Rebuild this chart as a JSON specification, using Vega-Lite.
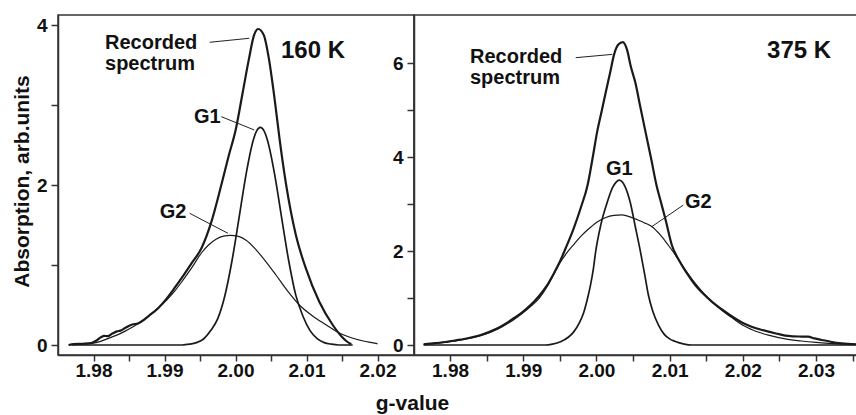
{
  "$schema": "https://vega.github.io/schema/vega-lite/v6.json",
  "autosize": {"type": "pad"},
  "padding": {"left": 10, "top": 14, "right": 0, "bottom": 0},
  "bounds": "flush",
  "spacing": 0,
  "config": {
    "font": "Liberation Sans",
    "view": {"stroke": "#333", "strokeWidth": 1.5},
    "axis": {
      "grid": false,
      "labelFont": "Liberation Sans", "labelFontWeight": "bold", "labelFontSize": 19, "labelColor": "#111",
      "domainColor": "#333", "domainWidth": 1.5, "tickColor": "#333", "tickWidth": 1.5,
      "titleFont": "Liberation Sans", "titleFontWeight": "bold", "titleFontSize": 21, "titleColor": "#111",
      "labelOverlap": false, "labelFlush": false, "labelBound": false
    }
  },
  "datasets": {
    "left": [
      {"s":"Recorded","g":1.9765,"A":0},{"s":"Recorded","g":1.9772,"A":0.01},{"s":"Recorded","g":1.9785,"A":0.015},{"s":"Recorded","g":1.9797,"A":0.025},{"s":"Recorded","g":1.9805,"A":0.06},{"s":"Recorded","g":1.9811,"A":0.1},{"s":"Recorded","g":1.9815,"A":0.115},{"s":"Recorded","g":1.982,"A":0.11},{"s":"Recorded","g":1.9826,"A":0.14},{"s":"Recorded","g":1.9833,"A":0.17},{"s":"Recorded","g":1.9838,"A":0.18},{"s":"Recorded","g":1.9844,"A":0.21},{"s":"Recorded","g":1.9851,"A":0.245},{"s":"Recorded","g":1.9856,"A":0.26},{"s":"Recorded","g":1.9861,"A":0.265},{"s":"Recorded","g":1.9867,"A":0.29},{"s":"Recorded","g":1.9878,"A":0.365},{"s":"Recorded","g":1.9891,"A":0.46},{"s":"Recorded","g":1.9903,"A":0.58},{"s":"Recorded","g":1.9914,"A":0.71},{"s":"Recorded","g":1.9926,"A":0.86},{"s":"Recorded","g":1.9938,"A":1.02},{"s":"Recorded","g":1.9952,"A":1.21},{"s":"Recorded","g":1.9966,"A":1.54},{"s":"Recorded","g":1.998,"A":2.0},{"s":"Recorded","g":1.999,"A":2.35},{"s":"Recorded","g":2.0001,"A":2.72},{"s":"Recorded","g":2.001,"A":3.15},{"s":"Recorded","g":2.0019,"A":3.58},{"s":"Recorded","g":2.0026,"A":3.87},{"s":"Recorded","g":2.0032,"A":3.95},{"s":"Recorded","g":2.004,"A":3.87},{"s":"Recorded","g":2.0047,"A":3.58},{"s":"Recorded","g":2.0055,"A":3.08},{"s":"Recorded","g":2.0062,"A":2.58},{"s":"Recorded","g":2.0071,"A":2.02},{"s":"Recorded","g":2.0085,"A":1.375},{"s":"Recorded","g":2.0099,"A":0.96},{"s":"Recorded","g":2.0118,"A":0.54},{"s":"Recorded","g":2.0137,"A":0.25},{"s":"Recorded","g":2.015,"A":0.1},{"s":"Recorded","g":2.0156,"A":0.05},{"s":"Recorded","g":2.0163,"A":0.01},
      {"s":"G1","g":1.977,"A":0},{"s":"G1","g":1.9925,"A":0},{"s":"G1","g":1.9935,"A":0.01},{"s":"G1","g":1.9945,"A":0.03},{"s":"G1","g":1.9955,"A":0.075},{"s":"G1","g":1.9965,"A":0.18},{"s":"G1","g":1.9975,"A":0.33},{"s":"G1","g":1.9985,"A":0.616},{"s":"G1","g":1.9995,"A":1.05},{"s":"G1","g":2.0005,"A":1.59},{"s":"G1","g":2.0015,"A":2.14},{"s":"G1","g":2.0025,"A":2.56},{"s":"G1","g":2.003,"A":2.68},{"s":"G1","g":2.0035,"A":2.72},{"s":"G1","g":2.004,"A":2.68},{"s":"G1","g":2.0045,"A":2.56},{"s":"G1","g":2.0055,"A":2.14},{"s":"G1","g":2.0065,"A":1.59},{"s":"G1","g":2.0075,"A":1.05},{"s":"G1","g":2.0085,"A":0.62},{"s":"G1","g":2.0095,"A":0.36},{"s":"G1","g":2.0105,"A":0.18},{"s":"G1","g":2.0115,"A":0.08},{"s":"G1","g":2.0125,"A":0.03},{"s":"G1","g":2.0135,"A":0.01},{"s":"G1","g":2.0145,"A":0},{"s":"G1","g":2.0165,"A":0},
      {"s":"G2","g":1.9765,"A":0},{"s":"G2","g":1.978,"A":0.01},{"s":"G2","g":1.9797,"A":0.02},{"s":"G2","g":1.981,"A":0.045},{"s":"G2","g":1.982,"A":0.08},{"s":"G2","g":1.9832,"A":0.12},{"s":"G2","g":1.9844,"A":0.17},{"s":"G2","g":1.9855,"A":0.225},{"s":"G2","g":1.9867,"A":0.29},{"s":"G2","g":1.9879,"A":0.37},{"s":"G2","g":1.9891,"A":0.46},{"s":"G2","g":1.9903,"A":0.56},{"s":"G2","g":1.9914,"A":0.67},{"s":"G2","g":1.9926,"A":0.81},{"s":"G2","g":1.9938,"A":0.96},{"s":"G2","g":1.9952,"A":1.15},{"s":"G2","g":1.9962,"A":1.25},{"s":"G2","g":1.9972,"A":1.32},{"s":"G2","g":1.9983,"A":1.36},{"s":"G2","g":1.9993,"A":1.37},{"s":"G2","g":2.0003,"A":1.36},{"s":"G2","g":2.0015,"A":1.31},{"s":"G2","g":2.0029,"A":1.19},{"s":"G2","g":2.0043,"A":1.04},{"s":"G2","g":2.0057,"A":0.875},{"s":"G2","g":2.0073,"A":0.68},{"s":"G2","g":2.009,"A":0.5},{"s":"G2","g":2.0109,"A":0.36},{"s":"G2","g":2.0128,"A":0.25},{"s":"G2","g":2.0144,"A":0.16},{"s":"G2","g":2.016,"A":0.1},{"s":"G2","g":2.018,"A":0.05},{"s":"G2","g":2.0198,"A":0.02},{"s":"G2","g":2.02,"A":0.015}
    ],
    "leftLeaders": [
      {"id":"R","g":1.99637,"A":3.784},{"id":"R","g":2.00194,"A":3.834},
      {"id":"G1","g":1.998,"A":2.854},{"id":"G1","g":2.00265,"A":2.6875},
      {"id":"G2","g":1.99355,"A":1.646},{"id":"G2","g":1.99894,"A":1.396}
    ],
    "leftLabels": [
      {"g":1.98162,"A":3.706,"text":"Recorded\nspectrum","kind":"name"},
      {"g":2.00641,"A":3.5875,"text":"160 K","kind":"temp"},
      {"g":1.99415,"A":2.771,"text":"G1","kind":"comp"},
      {"g":1.98932,"A":1.584,"text":"G2","kind":"comp"}
    ],
    "right": [
      {"s":"Recorded","g":1.9764,"A":0.015},{"s":"Recorded","g":1.978,"A":0.04},{"s":"Recorded","g":1.9796,"A":0.07},{"s":"Recorded","g":1.9808,"A":0.1},{"s":"Recorded","g":1.9819,"A":0.128},{"s":"Recorded","g":1.983,"A":0.165},{"s":"Recorded","g":1.9842,"A":0.213},{"s":"Recorded","g":1.9854,"A":0.28},{"s":"Recorded","g":1.9865,"A":0.355},{"s":"Recorded","g":1.9876,"A":0.455},{"s":"Recorded","g":1.9887,"A":0.57},{"s":"Recorded","g":1.9899,"A":0.7},{"s":"Recorded","g":1.991,"A":0.85},{"s":"Recorded","g":1.9922,"A":1.05},{"s":"Recorded","g":1.9933,"A":1.28},{"s":"Recorded","g":1.9941,"A":1.5},{"s":"Recorded","g":1.9949,"A":1.74},{"s":"Recorded","g":1.9959,"A":2.1},{"s":"Recorded","g":1.9969,"A":2.485},{"s":"Recorded","g":1.9979,"A":2.94},{"s":"Recorded","g":1.9988,"A":3.41},{"s":"Recorded","g":1.9995,"A":4.0},{"s":"Recorded","g":2.0001,"A":4.54},{"s":"Recorded","g":2.0007,"A":4.97},{"s":"Recorded","g":2.0013,"A":5.4},{"s":"Recorded","g":2.0019,"A":5.82},{"s":"Recorded","g":2.0024,"A":6.18},{"s":"Recorded","g":2.003,"A":6.4},{"s":"Recorded","g":2.0036,"A":6.45},{"s":"Recorded","g":2.0042,"A":6.28},{"s":"Recorded","g":2.0047,"A":5.93},{"s":"Recorded","g":2.0053,"A":5.6},{"s":"Recorded","g":2.006,"A":5.07},{"s":"Recorded","g":2.0068,"A":4.47},{"s":"Recorded","g":2.0075,"A":3.95},{"s":"Recorded","g":2.0082,"A":3.41},{"s":"Recorded","g":2.0088,"A":3.05},{"s":"Recorded","g":2.0094,"A":2.7},{"s":"Recorded","g":2.0103,"A":2.13},{"s":"Recorded","g":2.0114,"A":1.775},{"s":"Recorded","g":2.0124,"A":1.52},{"s":"Recorded","g":2.0135,"A":1.278},{"s":"Recorded","g":2.0146,"A":1.09},{"s":"Recorded","g":2.0158,"A":0.92},{"s":"Recorded","g":2.0173,"A":0.74},{"s":"Recorded","g":2.0189,"A":0.57},{"s":"Recorded","g":2.02,"A":0.47},{"s":"Recorded","g":2.0212,"A":0.39},{"s":"Recorded","g":2.0224,"A":0.33},{"s":"Recorded","g":2.0235,"A":0.284},{"s":"Recorded","g":2.0247,"A":0.24},{"s":"Recorded","g":2.0258,"A":0.199},{"s":"Recorded","g":2.0268,"A":0.185},{"s":"Recorded","g":2.028,"A":0.18},{"s":"Recorded","g":2.0289,"A":0.177},{"s":"Recorded","g":2.0298,"A":0.14},{"s":"Recorded","g":2.0308,"A":0.107},{"s":"Recorded","g":2.032,"A":0.07},{"s":"Recorded","g":2.0335,"A":0.036},{"s":"Recorded","g":2.0356,"A":0.015},
      {"s":"G2","g":1.9764,"A":0.015},{"s":"G2","g":1.9796,"A":0.06},{"s":"G2","g":1.9819,"A":0.12},{"s":"G2","g":1.9842,"A":0.2},{"s":"G2","g":1.9865,"A":0.335},{"s":"G2","g":1.9887,"A":0.54},{"s":"G2","g":1.991,"A":0.82},{"s":"G2","g":1.9922,"A":1.0},{"s":"G2","g":1.9933,"A":1.25},{"s":"G2","g":1.9941,"A":1.48},{"s":"G2","g":1.9949,"A":1.72},{"s":"G2","g":1.9959,"A":1.95},{"s":"G2","g":1.9969,"A":2.14},{"s":"G2","g":1.9979,"A":2.32},{"s":"G2","g":1.999,"A":2.48},{"s":"G2","g":2.0001,"A":2.62},{"s":"G2","g":2.0012,"A":2.71},{"s":"G2","g":2.0024,"A":2.76},{"s":"G2","g":2.0035,"A":2.77},{"s":"G2","g":2.0046,"A":2.73},{"s":"G2","g":2.0054,"A":2.68},{"s":"G2","g":2.0066,"A":2.6},{"s":"G2","g":2.0076,"A":2.52},{"s":"G2","g":2.0087,"A":2.35},{"s":"G2","g":2.0098,"A":2.13},{"s":"G2","g":2.0106,"A":1.96},{"s":"G2","g":2.0114,"A":1.775},{"s":"G2","g":2.0124,"A":1.54},{"s":"G2","g":2.0135,"A":1.31},{"s":"G2","g":2.0146,"A":1.11},{"s":"G2","g":2.0158,"A":0.92},{"s":"G2","g":2.0173,"A":0.72},{"s":"G2","g":2.0189,"A":0.54},{"s":"G2","g":2.02,"A":0.42},{"s":"G2","g":2.0212,"A":0.33},{"s":"G2","g":2.0224,"A":0.26},{"s":"G2","g":2.0235,"A":0.21},{"s":"G2","g":2.0258,"A":0.13},{"s":"G2","g":2.028,"A":0.085},{"s":"G2","g":2.03,"A":0.055},{"s":"G2","g":2.0325,"A":0.03},{"s":"G2","g":2.0356,"A":0.015},
      {"s":"G1","g":1.9764,"A":0},{"s":"G1","g":1.993,"A":0},{"s":"G1","g":1.994,"A":0.02},{"s":"G1","g":1.9951,"A":0.07},{"s":"G1","g":1.9962,"A":0.17},{"s":"G1","g":1.9969,"A":0.28},{"s":"G1","g":1.9977,"A":0.48},{"s":"G1","g":1.9983,"A":0.71},{"s":"G1","g":1.9988,"A":1.0},{"s":"G1","g":1.9992,"A":1.28},{"s":"G1","g":1.9996,"A":1.64},{"s":"G1","g":1.9999,"A":1.99},{"s":"G1","g":2.0006,"A":2.56},{"s":"G1","g":2.0015,"A":3.05},{"s":"G1","g":2.0022,"A":3.35},{"s":"G1","g":2.0027,"A":3.47},{"s":"G1","g":2.0031,"A":3.51},{"s":"G1","g":2.0035,"A":3.48},{"s":"G1","g":2.0039,"A":3.38},{"s":"G1","g":2.0046,"A":3.05},{"s":"G1","g":2.0053,"A":2.53},{"s":"G1","g":2.006,"A":2.0},{"s":"G1","g":2.0066,"A":1.5},{"s":"G1","g":2.0071,"A":1.065},{"s":"G1","g":2.0077,"A":0.72},{"s":"G1","g":2.0085,"A":0.42},{"s":"G1","g":2.0093,"A":0.22},{"s":"G1","g":2.01,"A":0.13},{"s":"G1","g":2.0107,"A":0.08},{"s":"G1","g":2.012,"A":0.02},{"s":"G1","g":2.013,"A":0},{"s":"G1","g":2.0356,"A":0}
    ],
    "rightLeaders": [
      {"id":"R","g":1.99717,"A":6.12},{"id":"R","g":2.00217,"A":6.19},
      {"id":"G2","g":2.01187,"A":2.98},{"id":"G2","g":2.00755,"A":2.52}
    ],
    "rightLabels": [
      {"g":1.98273,"A":5.996,"text":"Recorded\nspectrum","kind":"name"},
      {"g":2.02331,"A":6.113,"text":"375 K","kind":"temp"},
      {"g":2.00131,"A":3.621,"text":"G1","kind":"comp"},
      {"g":2.0121,"A":2.91,"text":"G2","kind":"comp"}
    ]
  },
  "hconcat": [
    {
      "width": 356,
      "height": 340,
      "encoding": {
        "x": {"field": "g", "type": "quantitative",
          "scale": {"domain": [1.975, 2.02514], "nice": false, "zero": false},
          "axis": {"values": [1.98,1.985,1.99,1.995,2.0,2.005,2.01,2.015,2.02],
            "labelExpr": "abs(datum.value*100 - round(datum.value*100)) < 0.001 ? format(datum.value, '.2f') : ''",
            "tickSize": 6, "labelPadding": 0,
            "title": "g-value", "titleX": 354, "titleY": 54, "titleBaseline": "alphabetic", "titleAlign": "center"}},
        "y": {"field": "A", "type": "quantitative",
          "scale": {"domain": [-0.125, 4.125], "nice": false, "zero": false},
          "axis": {"values": [0,1,2,3,4],
            "labelExpr": "datum.value % 2 == 0 ? format(datum.value, 'd') : ''",
            "tickSize": 7, "labelPadding": 4,
            "title": "Absorption, arb.units", "titleX": -30, "titleY": 166, "titleAngle": 270, "titleBaseline": "alphabetic", "titleAlign": "center"}}
      },
      "layer": [
        {"data": {"name": "left"},
         "mark": {"type": "line", "interpolate": "monotone", "color": "#1a1a1a"},
         "encoding": {"detail": {"field": "s"},
           "strokeWidth": {"field": "s", "type": "nominal", "scale": {"domain": ["Recorded","G1","G2"], "range": [2.2,1.2,1.2]}, "legend": null}}},
        {"data": {"name": "leftLeaders"},
         "mark": {"type": "line", "color": "#222", "strokeWidth": 1},
         "encoding": {"detail": {"field": "id"}}},
        {"data": {"name": "leftLabels"},
         "transform": [{"filter": "datum.kind == 'name'"}],
         "mark": {"type": "text", "align": "left", "baseline": "alphabetic", "font": "Liberation Sans", "fontWeight": "bold", "color": "#111", "fontSize": 20, "lineBreak": "\n", "lineHeight": 21},
         "encoding": {"text": {"field": "text"}}},
        {"data": {"name": "leftLabels"},
         "transform": [{"filter": "datum.kind == 'comp'"}],
         "mark": {"type": "text", "align": "left", "baseline": "alphabetic", "font": "Liberation Sans", "fontWeight": "bold", "color": "#111", "fontSize": 20},
         "encoding": {"text": {"field": "text"}}},
        {"data": {"name": "leftLabels"},
         "transform": [{"filter": "datum.kind == 'temp'"}],
         "mark": {"type": "text", "align": "left", "baseline": "alphabetic", "font": "Liberation Sans", "fontWeight": "bold", "color": "#111", "fontSize": 24},
         "encoding": {"text": {"field": "text"}}}
      ]
    },
    {
      "width": 443,
      "height": 340,
      "encoding": {
        "x": {"field": "g", "type": "quantitative",
          "scale": {"domain": [1.97508, 2.0356], "nice": false, "zero": false},
          "axis": {"values": [1.98,1.985,1.99,1.995,2.0,2.005,2.01,2.015,2.02,2.025,2.03,2.035],
            "labelExpr": "abs(datum.value*100 - round(datum.value*100)) < 0.001 ? format(datum.value, '.2f') : ''",
            "tickSize": 6, "labelPadding": 0, "title": null}},
        "y": {"field": "A", "type": "quantitative",
          "scale": {"domain": [-0.213, 7.029], "nice": false, "zero": false},
          "axis": {"values": [0,1,2,3,4,5,6],
            "labelExpr": "datum.value % 2 == 0 ? format(datum.value, 'd') : ''",
            "tickSize": 7, "labelPadding": 4, "title": null}}
      },
      "layer": [
        {"data": {"name": "right"},
         "mark": {"type": "line", "interpolate": "monotone", "color": "#1a1a1a"},
         "encoding": {"detail": {"field": "s"},
           "strokeWidth": {"field": "s", "type": "nominal", "scale": {"domain": ["Recorded","G1","G2"], "range": [2.2,1.2,1.2]}, "legend": null}}},
        {"data": {"name": "rightLeaders"},
         "mark": {"type": "line", "color": "#222", "strokeWidth": 1},
         "encoding": {"detail": {"field": "id"}}},
        {"data": {"name": "rightLabels"},
         "transform": [{"filter": "datum.kind == 'name'"}],
         "mark": {"type": "text", "align": "left", "baseline": "alphabetic", "font": "Liberation Sans", "fontWeight": "bold", "color": "#111", "fontSize": 20, "lineBreak": "\n", "lineHeight": 21},
         "encoding": {"text": {"field": "text"}}},
        {"data": {"name": "rightLabels"},
         "transform": [{"filter": "datum.kind == 'comp'"}],
         "mark": {"type": "text", "align": "left", "baseline": "alphabetic", "font": "Liberation Sans", "fontWeight": "bold", "color": "#111", "fontSize": 20},
         "encoding": {"text": {"field": "text"}}},
        {"data": {"name": "rightLabels"},
         "transform": [{"filter": "datum.kind == 'temp'"}],
         "mark": {"type": "text", "align": "left", "baseline": "alphabetic", "font": "Liberation Sans", "fontWeight": "bold", "color": "#111", "fontSize": 24},
         "encoding": {"text": {"field": "text"}}}
      ]
    }
  ]
}
